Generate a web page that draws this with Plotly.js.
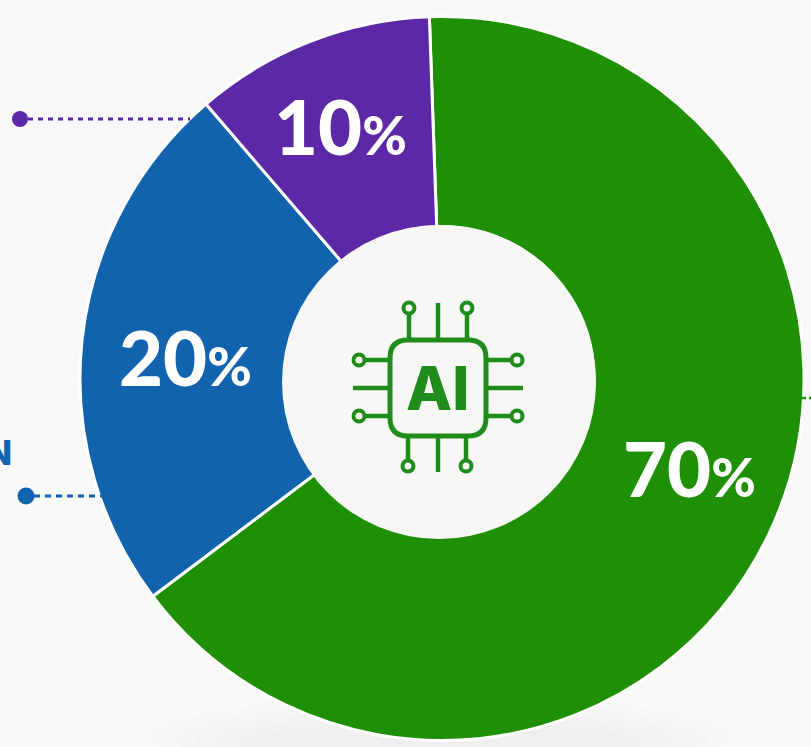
<!DOCTYPE html>
<html><head><meta charset="utf-8">
<script src="https://cdn.plot.ly/plotly-3.0.1.min.js"></script>
<style>html,body{margin:0;padding:0;background:#f8f9f8;overflow:hidden}#c{width:811px;height:747px}</style>
</head><body><div id="c"></div>
<script>
// Printed labels of the reference
const categories = ["Green share", "Blue share", "Purple share"];
const labelsPrinted = ["70%", "20%", "10%"];
// Slice sizes as actually drawn in the picture (the reference's slices are not to scale with its printed labels)
const drawnShare = [65.28, 23.97, 10.75];
const colors = ["#1f9005", "#1163ae", "#5c28a6"];
const labelPos = [[689, 467], [185, 357], [340, 126]];

const W = 811, H = 747;
const cx = 442, cy = 378.5, R = 362;
const px = x => x / W, py = y => 1 - y / H;
const icon = "#1f8c1c";
const holeFill = "#f7f7f6";

const shapes = [];
const line = (x0, y0, x1, y1, color, width, dash) => shapes.push({type:"line", xref:"paper", yref:"paper",
  x0:px(x0), y0:py(y0), x1:px(x1), y1:py(y1), line:{color, width, dash:dash||"solid"}, layer:"above"});
const circle = (x, y, r, fill, stroke, width, layer) => shapes.push({type:"circle", xref:"paper", yref:"paper",
  x0:px(x-r), x1:px(x+r), y0:py(y+r), y1:py(y-r), fillcolor:fill, line:{color:stroke, width:width||0}, layer:layer||"above"});

// soft ground shadow below the ring
for (let i = 0; i < 5; i++) {
  const rx = 290 - i * 22, ry = 40 - i * 5, cyy = 737 + i * 1.5;
  shapes.push({type:"circle", xref:"paper", yref:"paper", x0:px(441-rx), x1:px(441+rx), y0:py(cyy+ry), y1:py(cyy-ry),
    fillcolor:"#6c6c70", opacity:0.012, line:{width:0}, layer:"below"});
}

// hole, slightly off centre as in the reference
circle(439, 382, 157, holeFill, holeFill, 0);

// leader lines
line(28, 119, 190, 119, "#5c28a6", 3, "5px,5px");
circle(20, 119, 8, "#5c28a6", "#5c28a6", 0);
line(34, 496, 105, 496, "#1163ae", 3, "6px,5px");
circle(26, 496, 8.5, "#1163ae", "#1163ae", 0);
line(802, 398, 811, 398, "#1f9005", 2.5, "4px,3px");

// chip icon
const [a, b, c, d, rr] = [390, 340, 486, 436, 18];
shapes.push({type:"path", xref:"paper", yref:"paper", layer:"above", line:{color:icon, width:5}, fillcolor:"rgba(0,0,0,0)",
  path:`M${px(a+rr)},${py(b)} L${px(c-rr)},${py(b)} Q${px(c)},${py(b)} ${px(c)},${py(b+rr)} L${px(c)},${py(d-rr)} Q${px(c)},${py(d)} ${px(c-rr)},${py(d)} L${px(a+rr)},${py(d)} Q${px(a)},${py(d)} ${px(a)},${py(d-rr)} L${px(a)},${py(b+rr)} Q${px(a)},${py(b)} ${px(a+rr)},${py(b)} Z`});
for (const x of [409, 467]) {
  line(x, 338, x, 314, icon, 4.5); circle(x, 308, 5.5, holeFill, icon, 4);
  line(x-1, 438, x-1, 460, icon, 4.5); circle(x-1, 466, 5.5, holeFill, icon, 4);
}
line(438, 303, 438, 338, icon, 4.5);
line(438, 438, 438, 472, icon, 4.5);
for (const y of [360, 416]) {
  line(388, y, 366, y, icon, 4.5); circle(359, y, 5.5, holeFill, icon, 4);
  line(488, y, 510, y, icon, 4.5); circle(517, y, 5.5, holeFill, icon, 4);
}
line(353, 388, 388, 388, icon, 4.5);
line(488, 388, 523, 388, icon, 4.5);

const annotations = labelsPrinted.map((t, i) => ({
  xref:"paper", yref:"paper", x:px(labelPos[i][0]), y:py(labelPos[i][1]), xanchor:"center", yanchor:"middle", showarrow:false,
  text: t.replace("%", '<span style="font-size:54px">%</span>'),
  font:{family:"Lato", size:76, color:"#ffffff", weight:900}
}));
annotations.push({xref:"paper", yref:"paper", x:px(437), y:py(388), xanchor:"center", yanchor:"middle", showarrow:false,
  text:"AI", font:{family:"Inter", size:60, color:icon, weight:800}});
annotations.push({xref:"paper", yref:"paper", x:px(14), y:py(452), xanchor:"right", yanchor:"middle", showarrow:false,
  text:"N", font:{family:"Inter", size:34, color:"#1163ae", weight:800}});

Plotly.newPlot("c", [{
  type:"pie", labels:categories, values:drawnShare, sort:false, direction:"clockwise", rotation:-2,
  hole:0.42, textinfo:"none", hoverinfo:"skip", automargin:false,
  marker:{colors, line:{color:"#ffffff", width:3}},
  domain:{x:[(cx-R)/W, (cx+R)/W], y:[1-(cy+R)/H, 1-(cy-R)/H]}
}], {
  width:W, height:H, margin:{l:0,r:0,t:0,b:0,pad:0}, showlegend:false,
  paper_bgcolor:"#f8f9f8", plot_bgcolor:"#f8f9f8", shapes, annotations
}, {displayModeBar:false, staticPlot:true});
</script></body></html>
